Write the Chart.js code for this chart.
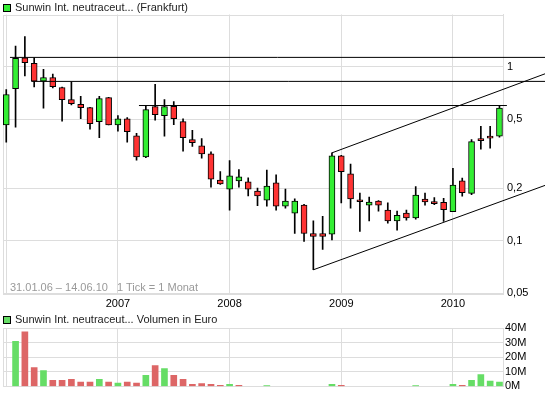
<!DOCTYPE html>
<html>
<head>
<meta charset="utf-8">
<script src="https://cdn.jsdelivr.net/npm/chart.js@4.4.0/dist/chart.umd.min.js"></script>
<style>
  html, body { margin: 0; padding: 0; background: #fff; }
  body { width: 545px; height: 395px; position: relative; overflow: hidden;
         font-family: "Liberation Sans", Arial, sans-serif; font-size: 11px; }
  #main { position: absolute; left: 0; top: 0; }
  #vol { position: absolute; left: 0; top: 300px; }
  .box { position: absolute; width: 6px; height: 6px; border: 1px solid #000; }
  .txt { position: absolute; white-space: pre; line-height: 13px; color: #222; }
  .note { color: #999; }
</style>
</head>
<body>
<canvas id="main" width="545" height="310"></canvas>
<canvas id="vol" width="545" height="95"></canvas>

<div class="box" style="left:3px; top:4px; background:#33ee33;"></div>
<div class="txt" style="left:15px; top:1px;">Sunwin Int. neutraceut... (Frankfurt)</div>
<div class="txt note" style="left:10px; top:281px;">31.01.06 – 14.06.10   1 Tick = 1 Monat</div>
<div class="box" style="left:3px; top:316px; background:#66dd66;"></div>
<div class="txt" style="left:15px; top:313px;">Sunwin Int. neutraceut... Volumen in Euro</div>

<script>
document.addEventListener('DOMContentLoaded', () => {

    /* --- Data (monthly, Jan 2006 .. Jun 2010) --- */
    const open = [0.464, 0.750, 1.127, 1.046, 0.827, 0.868, 0.760, 0.648, 0.609, 0.582,
                  0.484, 0.665, 0.464, 0.503, 0.401, 0.303, 0.590, 0.524, 0.593, 0.484,
                  0.381, 0.351, 0.316, 0.223, 0.198, 0.221, 0.218, 0.193, 0.171, 0.215,
                  0.158, 0.144, 0.160, 0.110, 0.110, 0.109, 0.308, 0.242, 0.172, 0.160,
                  0.169, 0.150, 0.130, 0.144, 0.135, 0.1735, 0.168, 0.166, 0.147, 0.221,
                  0.187, 0.386, 0.399, 0.399];
    const high = [0.740, 1.317, 1.491, 1.127, 0.966, 0.907, 0.765, 0.819, 0.677, 0.585,
                  0.677, 0.667, 0.524, 0.510, 0.415, 0.600, 0.794, 0.648, 0.631, 0.503,
                  0.431, 0.386, 0.324, 0.250, 0.289, 0.256, 0.230, 0.201, 0.255, 0.239,
                  0.198, 0.174, 0.162, 0.130, 0.138, 0.320, 0.310, 0.276, 0.188, 0.178,
                  0.170, 0.165, 0.148, 0.150, 0.205, 0.188, 0.177, 0.175, 0.261, 0.229,
                  0.381, 0.454, 0.454, 0.598];
    const low = [0.369, 0.450, 0.887, 0.766, 0.579, 0.756, 0.487, 0.603, 0.503, 0.438,
                 0.391, 0.463, 0.427, 0.369, 0.290, 0.300, 0.494, 0.399, 0.465, 0.327,
                 0.349, 0.298, 0.203, 0.211, 0.150, 0.203, 0.181, 0.159, 0.158, 0.150,
                 0.154, 0.110, 0.099, 0.068, 0.089, 0.101, 0.165, 0.154, 0.113, 0.130,
                 0.148, 0.126, 0.115, 0.131, 0.133, 0.160, 0.161, 0.129, 0.147, 0.180,
                 0.184, 0.336, 0.340, 0.394];
    const close = [0.693, 1.118, 1.055, 0.827, 0.868, 0.770, 0.648, 0.614, 0.582, 0.471,
                   0.657, 0.464, 0.503, 0.423, 0.303, 0.567, 0.531, 0.590, 0.503, 0.391,
                   0.366, 0.316, 0.226, 0.212, 0.236, 0.233, 0.198, 0.181, 0.206, 0.158,
                   0.169, 0.169, 0.110, 0.1058, 0.1058, 0.308, 0.249, 0.174, 0.1675, 0.1665,
                   0.160, 0.130, 0.140, 0.135, 0.183, 0.167, 0.1635, 0.151, 0.209, 0.189,
                   0.371, 0.376, 0.389, 0.579];
    // Volume in Mio. Euro (null = no trading volume shown)
    const volume = [null, 30.8, 37.3, 12.9, 10.9, 4.1, 4.1, 4.8, 2.9, 2.9,
                    4.8, 2.9, 2.3, 2.9, 2.3, 7.5, 14.3, 12.2, 7.5, 4.8,
                    1.4, 2.0, 1.4, 0.7, 1.4, 0.7, null, null, 0.6, null,
                    null, null, null, null, null, 1.4, 0.7, null, null, null,
                    null, null, null, null, 0.6, null, null, null, 1.4, 0.7,
                    4.1, 8.1, 3.6, 2.9];

    // Trend / resistance lines: [monthIndex, price] pairs
    const resistance1 = [[0.4, 1.133], [57.9, 1.133]];
    const resistance2 = [[2.7, 0.8245], [57.9, 0.8245]];
    const resistance3 = [[14.26, 0.599], [53.8, 0.599]];
    const channelTop = [[35, 0.32], [57.9, 0.912]];
    const channelBottom = [[33, 0.068], [57.9, 0.208]];

    const yearTicks = [0, 12, 24, 36, 48];
    const yearLabels = ['', '2007', '2008', '2009', '2010'];
    const priceTicks = [0.05, 0.1, 0.2, 0.5, 1];
    const volumeTicks = [0, 10, 20, 30, 40];

    /* --- Styles --- */
    const UP = '#33ee33';
    const DOWN = '#ff3333';
    const VOL_UP = '#66dd66';
    const VOL_DOWN = '#dd6666';
    const GRID = '#dddddd';
    const FONT = { family: '"Liberation Sans", Arial, sans-serif', size: 11 };

    const idx = close.map((_, i) => i);

    // draws left + top edge of the plot box
    const frame = {
        id: 'frame',
        beforeDatasetsDraw(chart) {
            const { ctx, chartArea: a } = chart;
            ctx.save();
            ctx.strokeStyle = GRID;
            ctx.lineWidth = 1;
            ctx.strokeRect(Math.round(a.left) + 0.5, Math.round(a.top) + 0.5,
                           Math.round(a.right - a.left), Math.round(a.bottom - a.top));
            ctx.restore();
        }
    };

    const lineSet = pts => ({
        type: 'line',
        data: pts.map(p => ({ x: p[0], y: p[1] })),
        borderColor: '#000',
        borderWidth: 1,
        pointRadius: 0,
        clip: false,
        order: 0
    });

    const xAxis = (height, showLabels) => ({
        type: 'linear',
        min: -0.35,
        max: 53.38,
        offset: false,
        afterBuildTicks: s => { s.ticks = yearTicks.map(v => ({ value: v })); },
        afterFit: s => { s.height = height; },
        grid: { color: GRID, drawTicks: false, offset: false },
        border: { color: GRID },
        ticks: {
            display: showLabels,
            padding: 4,
            color: '#000',
            font: FONT,
            maxRotation: 0,
            autoSkip: false,
            callback: v => yearLabels[yearTicks.indexOf(v)]
        }
    });

    /* --- Price chart --- */
    new Chart(document.getElementById('main'), {
        type: 'bar',
        data: {
            datasets: [
                {
                    data: idx.map(i => ({ x: i, y: [low[i], high[i]] })),
                    backgroundColor: '#000',
                    barThickness: 1,
                    grouped: false,
                    order: 2
                },
                {
                    data: idx.map(i => ({ x: i, y: [open[i], close[i]] })),
                    backgroundColor: idx.map(i => close[i] >= open[i] ? UP : DOWN),
                    borderColor: '#000',
                    borderWidth: 1,
                    borderSkipped: false,
                    barThickness: 6,
                    grouped: false,
                    order: 1
                },
                lineSet(resistance1),
                lineSet(resistance2),
                lineSet(resistance3),
                lineSet(channelTop),
                lineSet(channelBottom)
            ]
        },
        options: {
            responsive: false,
            animation: false,
            layout: { padding: { left: 3, top: 14.5, right: 0, bottom: 0 } },
            plugins: { legend: { display: false }, tooltip: { enabled: false } },
            scales: {
                x: xAxis(17, true),
                y: {
                    type: 'logarithmic',
                    position: 'right',
                    min: 0.05,
                    max: 2.0,
                    afterBuildTicks: s => { s.ticks = priceTicks.map(v => ({ value: v })); },
                    afterFit: s => { s.width = 42; },
                    grid: { color: GRID, drawTicks: false },
                    border: { color: GRID },
                    ticks: {
                        padding: 4,
                        color: '#000',
                        font: FONT,
                        callback: v => String(v).replace('.', ',')
                    }
                }
            }
        },
        plugins: [frame]
    });

    /* --- Volume chart --- */
    new Chart(document.getElementById('vol'), {
        type: 'bar',
        data: {
            datasets: [{
                data: idx.filter(i => volume[i] !== null)
                         .map(i => ({ x: i, y: volume[i] * 1e6 })),
                backgroundColor: idx.filter(i => volume[i] !== null)
                                    .map(i => (i > 0 && close[i] >= close[i - 1]) ? VOL_UP : VOL_DOWN),
                barThickness: 6,
                grouped: false
            }]
        },
        options: {
            responsive: false,
            animation: false,
            layout: { padding: { left: 3, top: 28, right: 0, bottom: 0 } },
            plugins: { legend: { display: false }, tooltip: { enabled: false } },
            scales: {
                x: xAxis(5, false),
                y: {
                    position: 'right',
                    min: 0,
                    max: 40e6,
                    afterBuildTicks: s => { s.ticks = volumeTicks.map(v => ({ value: v * 1e6 })); },
                    afterFit: s => { s.width = 42; },
                    grid: { color: GRID, drawTicks: false },
                    border: { color: GRID },
                    ticks: {
                        padding: 2,
                        color: '#000',
                        font: FONT,
                        callback: v => (v / 1e6) + 'M'
                    }
                }
            }
        },
        plugins: [frame]
    });
});
</script>
</body>
</html>
